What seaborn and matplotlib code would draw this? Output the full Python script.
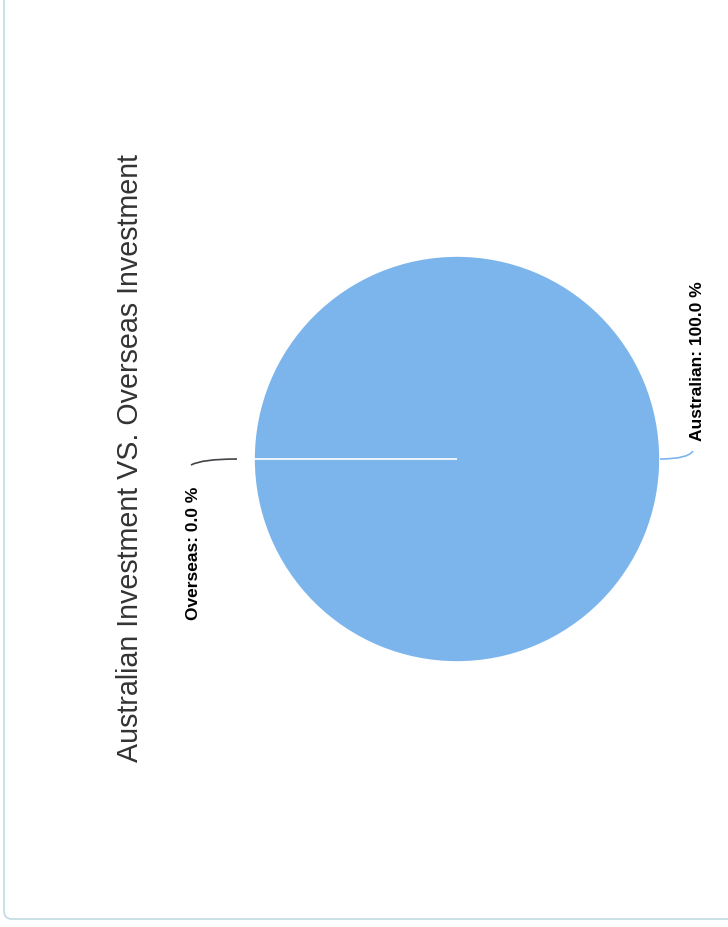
import numpy as np
import matplotlib
matplotlib.use("Agg")
import matplotlib.pyplot as plt
import seaborn as sns
from matplotlib.patches import FancyBboxPatch
from matplotlib.path import Path
from matplotlib.patches import PathPatch

# ---- data ----
categories = ["Australian", "Overseas"]
values = [100.0, 0.0]
colors = ["#7cb5ec", "#434348"]
title = "Australian Investment VS. Overseas Investment"

sns.set_theme(style="white")
plt.rcParams['font.family'] = ['Liberation Sans', 'DejaVu Sans']

W, H = 728, 928
fig = plt.figure(figsize=(W / 100, H / 100), dpi=100)
ax = fig.add_axes([0, 0, 1, 1])
ax.set_xlim(0, W)
ax.set_ylim(H, 0)
ax.set_aspect('equal')
ax.axis('off')

# container border
border = FancyBboxPatch((4, -10), W + 20, 930, boxstyle="round,pad=0,rounding_size=8",
                        fc="white", ec="#c4dde4", lw=1.3, zorder=0)
ax.add_patch(border)

cx, cy, r = 457, 460, 203
total = sum(values)
wedges, _ = ax.pie(values, colors=colors[:len(values)], startangle=180, center=(cx, cy),
                   radius=r, counterclock=True, frame=True,
                   wedgeprops=dict(edgecolor="white", linewidth=1.2))
for w in wedges:
    w.set_zorder(2)
ax.set_xlim(0, W)
ax.set_ylim(H, 0)
ax.axis('off')

# labels with connectors
label_specs = {
    # name: (side sign, text x, text anchor y, va)
    "Australian": (1, 697, 441, 'bottom'),
    "Overseas": (-1, 193, 487, 'top'),
}
for name, val, col in zip(categories, values, colors):
    side, tx, ty, va = label_specs[name]
    ex = cx + side * r
    if side > 0:
        p0 = (ex, cy); p1 = (ex + 28, cy); p2 = (ex + 33, cy - 8)
    else:
        p0 = (ex - 17, cy); p1 = (ex - 52, cy); p2 = (ex - 63, cy + 6)
    path = Path([p0, p1, p2], [Path.MOVETO, Path.CURVE3, Path.CURVE3])
    ax.add_patch(PathPatch(path, fc="none", ec=col, lw=1.2, zorder=3))
    pct = val / total * 100
    ax.text(tx, ty, f"{name}: {pct:.1f} %", rotation=90, ha='center', va=va,
            fontsize=12.5, fontweight='bold', color='black', zorder=4)

ax.text(130, 458, title, rotation=90, ha='center', va='center',
        fontsize=20.6, color='#333333', zorder=4)

fig.savefig("out.png", dpi=100, facecolor="white")
